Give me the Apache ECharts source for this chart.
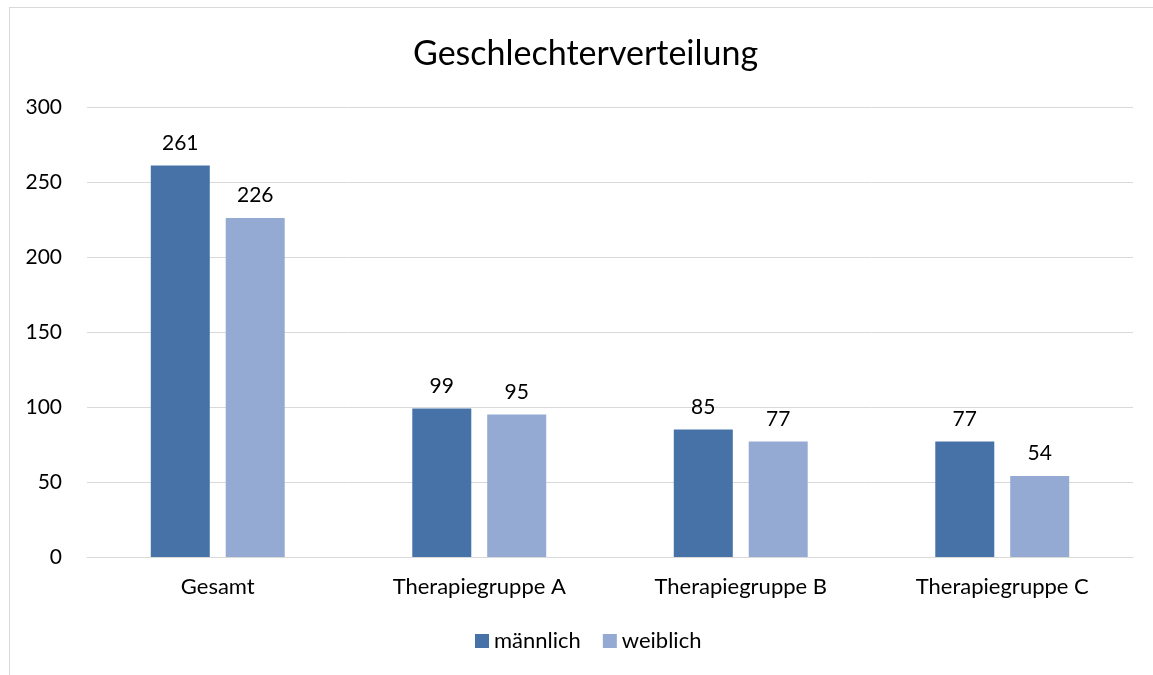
<!DOCTYPE html>
<html>
<head>
<meta charset="utf-8">
<script src="https://cdn.jsdelivr.net/npm/echarts@6/dist/echarts.min.js"></script>
<style>
  html, body { margin: 0; padding: 0; background: #fff; }
  #frame {
    position: absolute; left: 0; top: 0; width: 1153px; height: 675px;
  }
  #border {
    position: absolute; left: 9px; top: 7px; width: 1150px; height: 680px;
    border-left: 1px solid #d9d9d9; border-top: 1px solid #d9d9d9;
  }
  #chart { position: absolute; left: 0; top: 0; width: 1153px; height: 675px; }
</style>
</head>
<body>
<div id="frame">
  <div id="border"></div>
  <div id="chart"></div>
</div>
<script>
const categories = ['Gesamt', 'Therapiegruppe A', 'Therapiegruppe B', 'Therapiegruppe C']
const maennlich = [261, 99, 85, 77]
const weiblich = [226, 95, 77, 54]
const yTicks = { min: 0, max: 300, interval: 50 }

const font = 'Lato, "Open Sans", sans-serif'
const chart = echarts.init(document.getElementById('chart'))
chart.setOption({
  animation: false,
  textStyle: { fontFamily: font },
  title: {
    text: 'Geschlechterverteilung',
    left: 408,
    top: 32,
    textStyle: { fontFamily: font, fontSize: 34, fontWeight: 'normal', color: '#000' }
  },
  legend: {
    bottom: 18,
    left: 470,
    icon: 'rect',
    itemWidth: 14,
    itemHeight: 14,
    itemGap: 22,
    textStyle: { fontFamily: font, fontSize: 22, color: '#000' },
    data: ['männlich', 'weiblich']
  },
  grid: { left: 87, right: 20, top: 107, bottom: 118, containLabel: false },
  xAxis: {
    type: 'category',
    data: categories,
    axisLine: { lineStyle: { color: '#d9d9d9', width: 1 } },
    axisTick: { show: false },
    axisLabel: { fontFamily: font, fontSize: 22, color: '#000', margin: 19 }
  },
  yAxis: {
    type: 'value',
    min: yTicks.min,
    max: yTicks.max,
    interval: yTicks.interval,
    axisLine: { show: false },
    axisTick: { show: false },
    splitLine: { lineStyle: { color: '#d9d9d9', width: 1 } },
    axisLabel: { fontFamily: font, fontSize: 21, color: '#000', margin: 25 }
  },
  series: [
    {
      name: 'männlich',
      type: 'bar',
      data: maennlich,
      barWidth: 59,
      barGap: '27%',
      itemStyle: { color: '#4672a7' },
      label: { show: true, position: 'top', distance: 12, fontFamily: font, fontSize: 21, color: '#000' }
    },
    {
      name: 'weiblich',
      type: 'bar',
      data: weiblich,
      barWidth: 59,
      itemStyle: { color: '#94aad2' },
      label: { show: true, position: 'top', distance: 12, fontFamily: font, fontSize: 21, color: '#000' }
    }
  ]
})
</script>
</body>
</html>
